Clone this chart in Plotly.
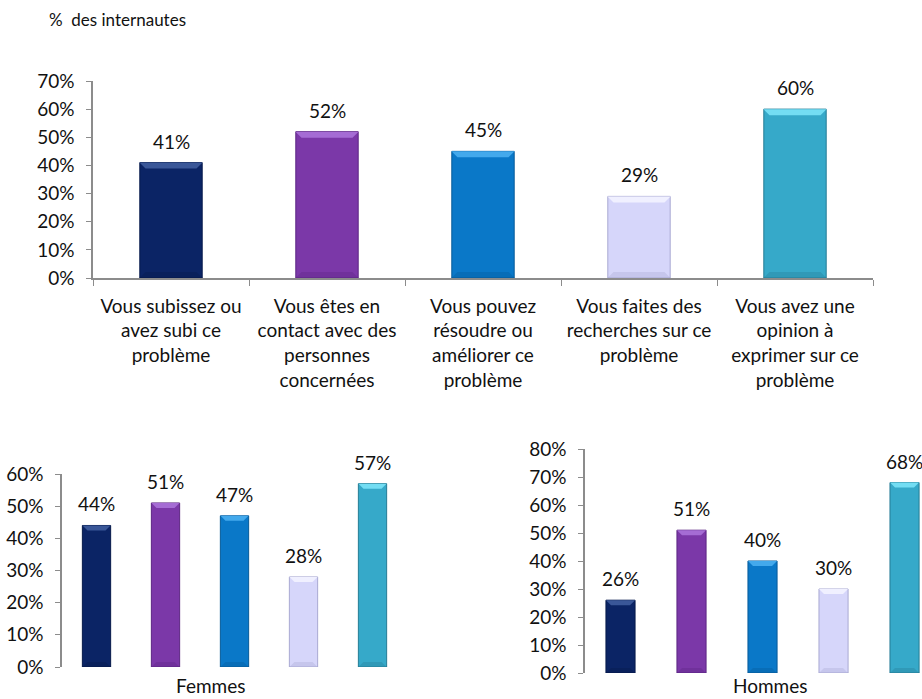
import plotly.graph_objects as go

# Categories (shared by all three panels)
categories = [
    "Vous subissez ou<br>avez subi ce<br>problème",
    "Vous êtes en<br>contact avec des<br>personnes<br>concernées",
    "Vous pouvez<br>résoudre ou<br>améliorer ce<br>problème",
    "Vous faites des<br>recherches sur ce<br>problème",
    "Vous avez une<br>opinion à<br>exprimer sur ce<br>problème",
]
ensemble = [41, 52, 45, 29, 60]
femmes = [44, 51, 47, 28, 57]
hommes = [26, 51, 40, 30, 68]

bar_colors = ["#0B2465", "#7B38A8", "#0A78C8", "#D6D6FA", "#36A9C9"]
bevel_colors = ["#3A5798", "#A56CD4", "#43A9EC", "#F0F0FF", "#73DDF3"]
edge_colors = ["#06194A", "#5C2683", "#075A98", "#A9A9D2", "#257C95"]

FONT = "Lato"
W, H = 922, 699


def px_x(p):
    return p / W


def px_y(p):
    return 1 - p / H


fig = go.Figure()

panels = [
    # values, xaxis, yaxis, bar width, bevel px, bar px width
    (ensemble, "x", "y", 0.40, 6, 63),
    (femmes, "x2", "y2", 0.41, 5, 28),
    (hommes, "x3", "y3", 0.41, 5, 29),
]

for vals, xa, ya, bw, bev, bpx in panels:
    xs = list(range(len(vals)))
    fig.add_trace(go.Bar(
        x=xs if xa != "x" else categories,
        y=vals,
        width=bw,
        marker=dict(color=bar_colors, line=dict(color=edge_colors, width=1)),
        xaxis=xa, yaxis=ya, showlegend=False, hoverinfo="skip",
    ))
    for i, v in enumerate(vals):
        xref = xa
        xpos = categories[i] if xa == "x" else i
        # label above each bar
        fig.add_annotation(
            x=xpos, y=v, xref=xref, yref=ya, text=f"{v}%", showarrow=False,
            yanchor="bottom", yshift=8,
            font=dict(family=FONT, size=19, color="#111111"),
        )
        half = bpx / 2
        # bevelled highlight on top of each bar
        fig.add_shape(
            type="path", xref=xref, yref=ya,
            xsizemode="pixel", ysizemode="pixel",
            xanchor=i, yanchor=v,
            path=(f"M {-half} 0 L {half} 0 L {half - bev} {-bev} "
                  f"L {-half + bev} {-bev} Z"),
            fillcolor=bevel_colors[i], line=dict(width=0), layer="above",
        )
        # darker foot of each bar
        fig.add_shape(
            type="path", xref=xref, yref=ya,
            xsizemode="pixel", ysizemode="pixel",
            xanchor=i, yanchor=0,
            path=(f"M {-half} 0 L {half} 0 L {half - bev} {bev} "
                  f"L {-half + bev} {bev} Z"),
            fillcolor=edge_colors[i], opacity=0.35, line=dict(width=0),
            layer="above",
        )

axis_color = "#8C8C8C"
tick_font = dict(family=FONT, size=19, color="#111111")

common_y = dict(
    showgrid=False, zeroline=False, showline=True, linecolor=axis_color,
    linewidth=1.5, ticks="outside", ticklen=5, tickcolor=axis_color,
    ticksuffix="%", tickfont=tick_font, ticklabelstandoff=8,
    automargin=False,
)

fig.update_layout(
    template="none",
    width=W, height=H,
    margin=dict(l=0, r=0, t=0, b=0, autoexpand=False),
    paper_bgcolor="white", plot_bgcolor="white",
    bargap=0.6,
    xaxis=dict(
        domain=[px_x(93), px_x(873)], type="category",
        range=[-0.5, 4.5], showgrid=False, showline=True, linecolor=axis_color,
        linewidth=1.5, ticks="outside", ticklen=6, tickcolor=axis_color,
        tickson="boundaries", tickfont=tick_font, ticklabelstandoff=10,
        anchor="y", automargin=False,
    ),
    yaxis=dict(domain=[px_y(278), px_y(81)], range=[0, 70], dtick=10,
               anchor="x", **common_y),
    xaxis2=dict(
        domain=[px_x(62), px_x(407)], range=[-0.5, 4.5], showgrid=False,
        showline=False, zeroline=False, showticklabels=False, ticks="",
        anchor="y2", automargin=False,
    ),
    yaxis2=dict(domain=[px_y(667), px_y(474)], range=[0, 60], dtick=10,
                anchor="x2", **common_y),
    xaxis3=dict(
        domain=[px_x(585), 1.0], range=[-0.5, 4.246], showgrid=False,
        showline=False, zeroline=False, showticklabels=False, ticks="",
        anchor="y3", automargin=False,
    ),
    yaxis3=dict(domain=[px_y(673), px_y(449)], range=[0, 80], dtick=10,
                anchor="x3", **common_y),
)

fig.add_annotation(
    text="%  des internautes", xref="paper", yref="paper",
    x=px_x(47), y=px_y(20), xanchor="left", yanchor="middle",
    showarrow=False, font=dict(family=FONT, size=17, color="#111111"),
)
# panel captions, sitting on the bottom edge of the figure
for caption, cx in (("Femmes", 210), ("Hommes", 770)):
    fig.add_annotation(
        text=caption, xref="paper", yref="paper",
        x=px_x(cx), y=0, xanchor="center", yanchor="bottom",
        showarrow=False, font=dict(family=FONT, size=19, color="#111111"),
    )

fig.write_html("out.html")
